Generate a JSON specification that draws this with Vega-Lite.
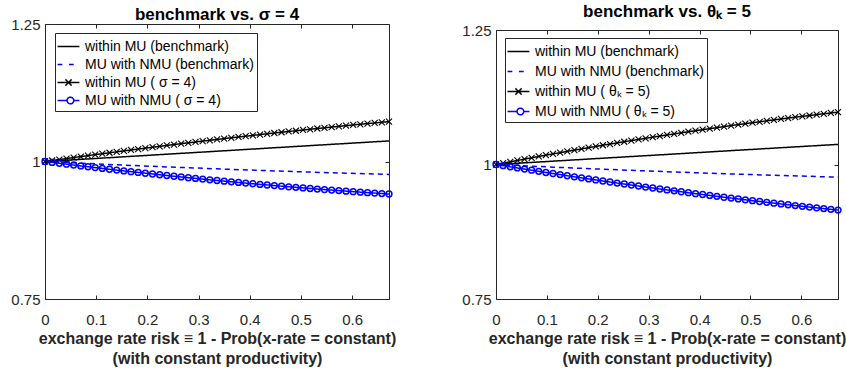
{
"$schema":"https://vega.github.io/schema/vega-lite/v6.json",
"background":"white",
"padding":{"left":10,"top":3,"right":2,"bottom":0},
"spacing":64,
"config":{
"font":"Liberation Sans",
"view":{"stroke":"#262626","strokeWidth":1},
"axis":{"domain":false,"grid":false,"labelFlush":false,"tickColor":"#262626","tickSize":-4,"labelColor":"#262626","labelFontSize":15,"labelFont":"Liberation Sans","titleFont":"Liberation Sans","titleFontSize":16,"titleFontWeight":"bold","titleColor":"#262626","domainColor":"#262626","domainWidth":1},
"title":{"font":"Liberation Sans","fontSize":17,"fontWeight":"bold","color":"#000000","anchor":"middle"},
"legend":{"titleFontSize":0}
},
"datasets":{
"L":[
{"s":"within MU (benchmark)","x":0,"y":1},{"s":"within MU (benchmark)","x":0.112,"y":1.0062},{"s":"within MU (benchmark)","x":0.224,"y":1.0125},{"s":"within MU (benchmark)","x":0.336,"y":1.0187},{"s":"within MU (benchmark)","x":0.448,"y":1.025},{"s":"within MU (benchmark)","x":0.56,"y":1.0312},{"s":"within MU (benchmark)","x":0.672,"y":1.0374},
{"s":"MU with NMU (benchmark)","x":0,"y":1},{"s":"MU with NMU (benchmark)","x":0.112,"y":0.9951},{"s":"MU with NMU (benchmark)","x":0.224,"y":0.9907},{"s":"MU with NMU (benchmark)","x":0.336,"y":0.9866},{"s":"MU with NMU (benchmark)","x":0.448,"y":0.9829},{"s":"MU with NMU (benchmark)","x":0.56,"y":0.9795},{"s":"MU with NMU (benchmark)","x":0.672,"y":0.9765},
{"s":"within MU ( σ = 4)","x":0,"y":1},{"s":"within MU ( σ = 4)","x":0.014,"y":1.0018},{"s":"within MU ( σ = 4)","x":0.028,"y":1.0036},{"s":"within MU ( σ = 4)","x":0.042,"y":1.0054},{"s":"within MU ( σ = 4)","x":0.056,"y":1.0072},{"s":"within MU ( σ = 4)","x":0.07,"y":1.009},{"s":"within MU ( σ = 4)","x":0.084,"y":1.0107},{"s":"within MU ( σ = 4)","x":0.098,"y":1.0125},{"s":"within MU ( σ = 4)","x":0.112,"y":1.0142},{"s":"within MU ( σ = 4)","x":0.126,"y":1.0159},{"s":"within MU ( σ = 4)","x":0.14,"y":1.0176},{"s":"within MU ( σ = 4)","x":0.154,"y":1.0193},{"s":"within MU ( σ = 4)","x":0.168,"y":1.021},{"s":"within MU ( σ = 4)","x":0.182,"y":1.0227},{"s":"within MU ( σ = 4)","x":0.196,"y":1.0243},{"s":"within MU ( σ = 4)","x":0.21,"y":1.026},{"s":"within MU ( σ = 4)","x":0.224,"y":1.0276},{"s":"within MU ( σ = 4)","x":0.238,"y":1.0292},{"s":"within MU ( σ = 4)","x":0.252,"y":1.0308},{"s":"within MU ( σ = 4)","x":0.266,"y":1.0324},{"s":"within MU ( σ = 4)","x":0.28,"y":1.034},{"s":"within MU ( σ = 4)","x":0.294,"y":1.0355},{"s":"within MU ( σ = 4)","x":0.308,"y":1.0371},{"s":"within MU ( σ = 4)","x":0.322,"y":1.0386},{"s":"within MU ( σ = 4)","x":0.336,"y":1.0401},{"s":"within MU ( σ = 4)","x":0.35,"y":1.0416},{"s":"within MU ( σ = 4)","x":0.364,"y":1.0431},{"s":"within MU ( σ = 4)","x":0.378,"y":1.0446},{"s":"within MU ( σ = 4)","x":0.392,"y":1.046},{"s":"within MU ( σ = 4)","x":0.406,"y":1.0475},{"s":"within MU ( σ = 4)","x":0.42,"y":1.0489},{"s":"within MU ( σ = 4)","x":0.434,"y":1.0504},{"s":"within MU ( σ = 4)","x":0.448,"y":1.0518},{"s":"within MU ( σ = 4)","x":0.462,"y":1.0532},{"s":"within MU ( σ = 4)","x":0.476,"y":1.0546},{"s":"within MU ( σ = 4)","x":0.49,"y":1.0559},{"s":"within MU ( σ = 4)","x":0.504,"y":1.0573},{"s":"within MU ( σ = 4)","x":0.518,"y":1.0586},{"s":"within MU ( σ = 4)","x":0.532,"y":1.06},{"s":"within MU ( σ = 4)","x":0.546,"y":1.0613},{"s":"within MU ( σ = 4)","x":0.56,"y":1.0626},{"s":"within MU ( σ = 4)","x":0.574,"y":1.0639},{"s":"within MU ( σ = 4)","x":0.588,"y":1.0652},{"s":"within MU ( σ = 4)","x":0.602,"y":1.0664},{"s":"within MU ( σ = 4)","x":0.616,"y":1.0677},{"s":"within MU ( σ = 4)","x":0.63,"y":1.0689},{"s":"within MU ( σ = 4)","x":0.644,"y":1.0701},{"s":"within MU ( σ = 4)","x":0.658,"y":1.0713},{"s":"within MU ( σ = 4)","x":0.672,"y":1.0725},
{"s":"MU with NMU ( σ = 4)","x":0,"y":1},{"s":"MU with NMU ( σ = 4)","x":0.014,"y":0.9984},{"s":"MU with NMU ( σ = 4)","x":0.028,"y":0.9967},{"s":"MU with NMU ( σ = 4)","x":0.042,"y":0.9951},{"s":"MU with NMU ( σ = 4)","x":0.056,"y":0.9936},{"s":"MU with NMU ( σ = 4)","x":0.07,"y":0.992},{"s":"MU with NMU ( σ = 4)","x":0.084,"y":0.9904},{"s":"MU with NMU ( σ = 4)","x":0.098,"y":0.9889},{"s":"MU with NMU ( σ = 4)","x":0.112,"y":0.9874},{"s":"MU with NMU ( σ = 4)","x":0.126,"y":0.9859},{"s":"MU with NMU ( σ = 4)","x":0.14,"y":0.9844},{"s":"MU with NMU ( σ = 4)","x":0.154,"y":0.9829},{"s":"MU with NMU ( σ = 4)","x":0.168,"y":0.9815},{"s":"MU with NMU ( σ = 4)","x":0.182,"y":0.9801},{"s":"MU with NMU ( σ = 4)","x":0.196,"y":0.9787},{"s":"MU with NMU ( σ = 4)","x":0.21,"y":0.9773},{"s":"MU with NMU ( σ = 4)","x":0.224,"y":0.9759},{"s":"MU with NMU ( σ = 4)","x":0.238,"y":0.9745},{"s":"MU with NMU ( σ = 4)","x":0.252,"y":0.9732},{"s":"MU with NMU ( σ = 4)","x":0.266,"y":0.9719},{"s":"MU with NMU ( σ = 4)","x":0.28,"y":0.9705},{"s":"MU with NMU ( σ = 4)","x":0.294,"y":0.9693},{"s":"MU with NMU ( σ = 4)","x":0.308,"y":0.968},{"s":"MU with NMU ( σ = 4)","x":0.322,"y":0.9667},{"s":"MU with NMU ( σ = 4)","x":0.336,"y":0.9655},{"s":"MU with NMU ( σ = 4)","x":0.35,"y":0.9643},{"s":"MU with NMU ( σ = 4)","x":0.364,"y":0.9631},{"s":"MU with NMU ( σ = 4)","x":0.378,"y":0.9619},{"s":"MU with NMU ( σ = 4)","x":0.392,"y":0.9607},{"s":"MU with NMU ( σ = 4)","x":0.406,"y":0.9595},{"s":"MU with NMU ( σ = 4)","x":0.42,"y":0.9584},{"s":"MU with NMU ( σ = 4)","x":0.434,"y":0.9573},{"s":"MU with NMU ( σ = 4)","x":0.448,"y":0.9562},{"s":"MU with NMU ( σ = 4)","x":0.462,"y":0.9551},{"s":"MU with NMU ( σ = 4)","x":0.476,"y":0.954},{"s":"MU with NMU ( σ = 4)","x":0.49,"y":0.953},{"s":"MU with NMU ( σ = 4)","x":0.504,"y":0.952},{"s":"MU with NMU ( σ = 4)","x":0.518,"y":0.9509},{"s":"MU with NMU ( σ = 4)","x":0.532,"y":0.9499},{"s":"MU with NMU ( σ = 4)","x":0.546,"y":0.949},{"s":"MU with NMU ( σ = 4)","x":0.56,"y":0.948},{"s":"MU with NMU ( σ = 4)","x":0.574,"y":0.9471},{"s":"MU with NMU ( σ = 4)","x":0.588,"y":0.9461},{"s":"MU with NMU ( σ = 4)","x":0.602,"y":0.9452},{"s":"MU with NMU ( σ = 4)","x":0.616,"y":0.9443},{"s":"MU with NMU ( σ = 4)","x":0.63,"y":0.9434},{"s":"MU with NMU ( σ = 4)","x":0.644,"y":0.9426},{"s":"MU with NMU ( σ = 4)","x":0.658,"y":0.9417},{"s":"MU with NMU ( σ = 4)","x":0.672,"y":0.9409}
],
"R":[
{"s":"within MU (benchmark)","x":0,"y":1},{"s":"within MU (benchmark)","x":0.112,"y":1.0062},{"s":"within MU (benchmark)","x":0.224,"y":1.0125},{"s":"within MU (benchmark)","x":0.336,"y":1.0187},{"s":"within MU (benchmark)","x":0.448,"y":1.025},{"s":"within MU (benchmark)","x":0.56,"y":1.0312},{"s":"within MU (benchmark)","x":0.672,"y":1.0374},
{"s":"MU with NMU (benchmark)","x":0,"y":1},{"s":"MU with NMU (benchmark)","x":0.112,"y":0.9951},{"s":"MU with NMU (benchmark)","x":0.224,"y":0.9907},{"s":"MU with NMU (benchmark)","x":0.336,"y":0.9866},{"s":"MU with NMU (benchmark)","x":0.448,"y":0.9829},{"s":"MU with NMU (benchmark)","x":0.56,"y":0.9795},{"s":"MU with NMU (benchmark)","x":0.672,"y":0.9765},
{"s":"within MU ( θₖ = 5)","x":0,"y":1},{"s":"within MU ( θₖ = 5)","x":0.014,"y":1.0025},{"s":"within MU ( θₖ = 5)","x":0.028,"y":1.005},{"s":"within MU ( θₖ = 5)","x":0.042,"y":1.0075},{"s":"within MU ( θₖ = 5)","x":0.056,"y":1.01},{"s":"within MU ( θₖ = 5)","x":0.07,"y":1.0125},{"s":"within MU ( θₖ = 5)","x":0.084,"y":1.0149},{"s":"within MU ( θₖ = 5)","x":0.098,"y":1.0173},{"s":"within MU ( θₖ = 5)","x":0.112,"y":1.0197},{"s":"within MU ( θₖ = 5)","x":0.126,"y":1.022},{"s":"within MU ( θₖ = 5)","x":0.14,"y":1.0244},{"s":"within MU ( θₖ = 5)","x":0.154,"y":1.0267},{"s":"within MU ( θₖ = 5)","x":0.168,"y":1.029},{"s":"within MU ( θₖ = 5)","x":0.182,"y":1.0313},{"s":"within MU ( θₖ = 5)","x":0.196,"y":1.0335},{"s":"within MU ( θₖ = 5)","x":0.21,"y":1.0358},{"s":"within MU ( θₖ = 5)","x":0.224,"y":1.038},{"s":"within MU ( θₖ = 5)","x":0.238,"y":1.0402},{"s":"within MU ( θₖ = 5)","x":0.252,"y":1.0423},{"s":"within MU ( θₖ = 5)","x":0.266,"y":1.0445},{"s":"within MU ( θₖ = 5)","x":0.28,"y":1.0466},{"s":"within MU ( θₖ = 5)","x":0.294,"y":1.0487},{"s":"within MU ( θₖ = 5)","x":0.308,"y":1.0508},{"s":"within MU ( θₖ = 5)","x":0.322,"y":1.0528},{"s":"within MU ( θₖ = 5)","x":0.336,"y":1.0549},{"s":"within MU ( θₖ = 5)","x":0.35,"y":1.0569},{"s":"within MU ( θₖ = 5)","x":0.364,"y":1.0589},{"s":"within MU ( θₖ = 5)","x":0.378,"y":1.0609},{"s":"within MU ( θₖ = 5)","x":0.392,"y":1.0628},{"s":"within MU ( θₖ = 5)","x":0.406,"y":1.0647},{"s":"within MU ( θₖ = 5)","x":0.42,"y":1.0667},{"s":"within MU ( θₖ = 5)","x":0.434,"y":1.0685},{"s":"within MU ( θₖ = 5)","x":0.448,"y":1.0704},{"s":"within MU ( θₖ = 5)","x":0.462,"y":1.0723},{"s":"within MU ( θₖ = 5)","x":0.476,"y":1.0741},{"s":"within MU ( θₖ = 5)","x":0.49,"y":1.0759},{"s":"within MU ( θₖ = 5)","x":0.504,"y":1.0777},{"s":"within MU ( θₖ = 5)","x":0.518,"y":1.0794},{"s":"within MU ( θₖ = 5)","x":0.532,"y":1.0812},{"s":"within MU ( θₖ = 5)","x":0.546,"y":1.0829},{"s":"within MU ( θₖ = 5)","x":0.56,"y":1.0846},{"s":"within MU ( θₖ = 5)","x":0.574,"y":1.0862},{"s":"within MU ( θₖ = 5)","x":0.588,"y":1.0879},{"s":"within MU ( θₖ = 5)","x":0.602,"y":1.0895},{"s":"within MU ( θₖ = 5)","x":0.616,"y":1.0911},{"s":"within MU ( θₖ = 5)","x":0.63,"y":1.0927},{"s":"within MU ( θₖ = 5)","x":0.644,"y":1.0943},{"s":"within MU ( θₖ = 5)","x":0.658,"y":1.0958},{"s":"within MU ( θₖ = 5)","x":0.672,"y":1.0973},
{"s":"MU with NMU ( θₖ = 5)","x":0,"y":1},{"s":"MU with NMU ( θₖ = 5)","x":0.014,"y":0.9978},{"s":"MU with NMU ( θₖ = 5)","x":0.028,"y":0.9957},{"s":"MU with NMU ( θₖ = 5)","x":0.042,"y":0.9936},{"s":"MU with NMU ( θₖ = 5)","x":0.056,"y":0.9915},{"s":"MU with NMU ( θₖ = 5)","x":0.07,"y":0.9894},{"s":"MU with NMU ( θₖ = 5)","x":0.084,"y":0.9873},{"s":"MU with NMU ( θₖ = 5)","x":0.098,"y":0.9852},{"s":"MU with NMU ( θₖ = 5)","x":0.112,"y":0.9832},{"s":"MU with NMU ( θₖ = 5)","x":0.126,"y":0.9812},{"s":"MU with NMU ( θₖ = 5)","x":0.14,"y":0.9791},{"s":"MU with NMU ( θₖ = 5)","x":0.154,"y":0.9771},{"s":"MU with NMU ( θₖ = 5)","x":0.168,"y":0.9752},{"s":"MU with NMU ( θₖ = 5)","x":0.182,"y":0.9732},{"s":"MU with NMU ( θₖ = 5)","x":0.196,"y":0.9713},{"s":"MU with NMU ( θₖ = 5)","x":0.21,"y":0.9693},{"s":"MU with NMU ( θₖ = 5)","x":0.224,"y":0.9674},{"s":"MU with NMU ( θₖ = 5)","x":0.238,"y":0.9655},{"s":"MU with NMU ( θₖ = 5)","x":0.252,"y":0.9637},{"s":"MU with NMU ( θₖ = 5)","x":0.266,"y":0.9618},{"s":"MU with NMU ( θₖ = 5)","x":0.28,"y":0.96},{"s":"MU with NMU ( θₖ = 5)","x":0.294,"y":0.9581},{"s":"MU with NMU ( θₖ = 5)","x":0.308,"y":0.9563},{"s":"MU with NMU ( θₖ = 5)","x":0.322,"y":0.9545},{"s":"MU with NMU ( θₖ = 5)","x":0.336,"y":0.9528},{"s":"MU with NMU ( θₖ = 5)","x":0.35,"y":0.951},{"s":"MU with NMU ( θₖ = 5)","x":0.364,"y":0.9493},{"s":"MU with NMU ( θₖ = 5)","x":0.378,"y":0.9476},{"s":"MU with NMU ( θₖ = 5)","x":0.392,"y":0.9458},{"s":"MU with NMU ( θₖ = 5)","x":0.406,"y":0.9442},{"s":"MU with NMU ( θₖ = 5)","x":0.42,"y":0.9425},{"s":"MU with NMU ( θₖ = 5)","x":0.434,"y":0.9408},{"s":"MU with NMU ( θₖ = 5)","x":0.448,"y":0.9392},{"s":"MU with NMU ( θₖ = 5)","x":0.462,"y":0.9376},{"s":"MU with NMU ( θₖ = 5)","x":0.476,"y":0.936},{"s":"MU with NMU ( θₖ = 5)","x":0.49,"y":0.9344},{"s":"MU with NMU ( θₖ = 5)","x":0.504,"y":0.9328},{"s":"MU with NMU ( θₖ = 5)","x":0.518,"y":0.9312},{"s":"MU with NMU ( θₖ = 5)","x":0.532,"y":0.9297},{"s":"MU with NMU ( θₖ = 5)","x":0.546,"y":0.9282},{"s":"MU with NMU ( θₖ = 5)","x":0.56,"y":0.9267},{"s":"MU with NMU ( θₖ = 5)","x":0.574,"y":0.9252},{"s":"MU with NMU ( θₖ = 5)","x":0.588,"y":0.9237},{"s":"MU with NMU ( θₖ = 5)","x":0.602,"y":0.9223},{"s":"MU with NMU ( θₖ = 5)","x":0.616,"y":0.9208},{"s":"MU with NMU ( θₖ = 5)","x":0.63,"y":0.9194},{"s":"MU with NMU ( θₖ = 5)","x":0.644,"y":0.918},{"s":"MU with NMU ( θₖ = 5)","x":0.658,"y":0.9166},{"s":"MU with NMU ( θₖ = 5)","x":0.672,"y":0.9153}
]
},
"resolve":{"scale":{"color":"independent","strokeDash":"independent"},"legend":{"color":"independent"}},
"hconcat":[
{
"width":344,"height":275,
"title":{"text":"benchmark vs. σ = 4","offset":-7},
"data":{"name":"L"},
"resolve":{"axis":{"x":"independent","y":"independent"}},
"layer":[
{"mark":{"type":"line","strokeWidth":1.5,"clip":true},
"encoding":{
"x":{"field":"x","type":"quantitative","scale":{"domain":[0,0.672],"nice":false,"zero":false},"axis":{"values":[0,0.1,0.2,0.3,0.4,0.5,0.6],"format":"~g","labelPadding":17,"title":["exchange rate risk ≡ 1 - Prob(x-rate = constant)","(with constant productivity)"],"titleLineHeight":20,"titlePadding":3}},
"y":{"field":"y","type":"quantitative","scale":{"domain":[0.75,1.25],"nice":false,"zero":false},"axis":{"values":[0.75,1,1.25],"format":".2~f","title":null,"labelPadding":9}},
"color":{"field":"s","type":"nominal","scale":{"domain":["within MU (benchmark)","MU with NMU (benchmark)","within MU ( σ = 4)","MU with NMU ( σ = 4)"],"range":["#000000","#0000ff","#000000","#0000ff"]},
"legend":{"title":null,"orient":"none","legendX":10,"legendY":9,"padding":3,"strokeColor":"#262626","fillColor":"white","symbolSize":361,"symbolStrokeWidth":1.5,"labelFontSize":14,"labelFont":"Liberation Sans","labelColor":"#000000","labelLimit":0,"rowPadding":0,"labelOffset":6,
"encode":{"symbols":{"update":{"shape":{"signal":"test(/benchmark/, datum.value) ? (test(/within/, datum.value) ? 'M-1.15,0H1.15' : 'M-1.15,0H-0.65M0.05,0H0.55') : (test(/within/, datum.value) ? 'M-1.15,0H1.15M-0.33,-0.33L0.33,0.33M-0.33,0.33L0.33,-0.33' : 'M-1.15,0H-0.15M0.55,0H1.15M-0.15,0A0.35,0.35 0 1,0 0.55,0A0.35,0.35 0 1,0 -0.15,0')"},"fill":{"value":"transparent"},"strokeDash":{"value":[]}}}}}},
"strokeDash":{"field":"s","type":"nominal","scale":{"domain":["within MU (benchmark)","MU with NMU (benchmark)","within MU ( σ = 4)","MU with NMU ( σ = 4)"],"range":[[1,0],[5,4],[1,0],[1,0]]},"legend":null}
}},
{"transform":[{"filter":"datum.s == 'within MU ( σ = 4)'"}],
"mark":{"type":"point","shape":"M-1,-1L1,1M-1,1L1,-1","size":36,"strokeWidth":1.1,"filled":false,"color":"#000000","opacity":1},
"encoding":{
"x":{"field":"x","type":"quantitative","axis":{"orient":"top","labels":false,"title":null,"values":[0,0.1,0.2,0.3,0.4,0.5,0.6]}},
"y":{"field":"y","type":"quantitative","axis":{"orient":"right","labels":false,"title":null,"values":[0.75,1,1.25]}}
}},
{"transform":[{"filter":"datum.s == 'MU with NMU ( σ = 4)'"}],
"mark":{"type":"point","shape":"circle","size":34,"strokeWidth":1.5,"filled":false,"color":"#0000ff","opacity":1},
"encoding":{
"x":{"field":"x","type":"quantitative","axis":null},
"y":{"field":"y","type":"quantitative","axis":null}
}}
]
},
{
"width":342,"height":275,
"view":{"stroke":null},
"title":{"text":"benchmark vs. θₖ = 5","offset":2},
"data":{"name":"R"},
"resolve":{"axis":{"x":"independent","y":"independent"}},
"layer":[
{"mark":{"type":"line","strokeWidth":1.5,"clip":true},
"encoding":{
"x":{"field":"x","type":"quantitative","scale":{"domain":[0,0.672],"nice":false,"zero":false},"axis":{"domain":true,"values":[0,0.1,0.2,0.3,0.4,0.5,0.6],"format":"~g","labelPadding":17,"title":["exchange rate risk ≡ 1 - Prob(x-rate = constant)","(with constant productivity)"],"titleLineHeight":20,"titlePadding":3}},
"y":{"field":"y","type":"quantitative","scale":{"domain":[0.75,1.25],"range":[275,6],"nice":false,"zero":false},"axis":{"domain":true,"values":[0.75,1,1.25],"format":".2~f","title":null,"labelPadding":9}},
"color":{"field":"s","type":"nominal","scale":{"domain":["within MU (benchmark)","MU with NMU (benchmark)","within MU ( θₖ = 5)","MU with NMU ( θₖ = 5)"],"range":["#000000","#0000ff","#000000","#0000ff"]},
"legend":{"title":null,"orient":"none","legendX":9,"legendY":14,"padding":3,"strokeColor":"#262626","fillColor":"white","symbolSize":361,"symbolStrokeWidth":1.5,"labelFontSize":14,"labelFont":"Liberation Sans","labelColor":"#000000","labelLimit":0,"rowPadding":2,"labelOffset":6,
"encode":{"symbols":{"update":{"shape":{"signal":"test(/benchmark/, datum.value) ? (test(/within/, datum.value) ? 'M-1.15,0H1.15' : 'M-1.15,0H-0.65M0.05,0H0.55') : (test(/within/, datum.value) ? 'M-1.15,0H1.15M-0.33,-0.33L0.33,0.33M-0.33,0.33L0.33,-0.33' : 'M-1.15,0H-0.15M0.55,0H1.15M-0.15,0A0.35,0.35 0 1,0 0.55,0A0.35,0.35 0 1,0 -0.15,0')"},"fill":{"value":"transparent"},"strokeDash":{"value":[]}}}}}},
"strokeDash":{"field":"s","type":"nominal","scale":{"domain":["within MU (benchmark)","MU with NMU (benchmark)","within MU ( θₖ = 5)","MU with NMU ( θₖ = 5)"],"range":[[1,0],[5,4],[1,0],[1,0]]},"legend":null}
}},
{"transform":[{"filter":"datum.s == 'within MU ( θₖ = 5)'"}],
"mark":{"type":"point","shape":"M-1,-1L1,1M-1,1L1,-1","size":36,"strokeWidth":1.1,"filled":false,"color":"#000000","opacity":1},
"encoding":{
"x":{"field":"x","type":"quantitative","axis":{"orient":"top","offset":-6,"domain":true,"labels":false,"title":null,"values":[0,0.1,0.2,0.3,0.4,0.5,0.6]}},
"y":{"field":"y","type":"quantitative","axis":{"orient":"right","domain":true,"labels":false,"title":null,"values":[0.75,1,1.25]}}
}},
{"transform":[{"filter":"datum.s == 'MU with NMU ( θₖ = 5)'"}],
"mark":{"type":"point","shape":"circle","size":34,"strokeWidth":1.5,"filled":false,"color":"#0000ff","opacity":1},
"encoding":{
"x":{"field":"x","type":"quantitative","axis":null},
"y":{"field":"y","type":"quantitative","axis":null}
}}
]
}
]
}
